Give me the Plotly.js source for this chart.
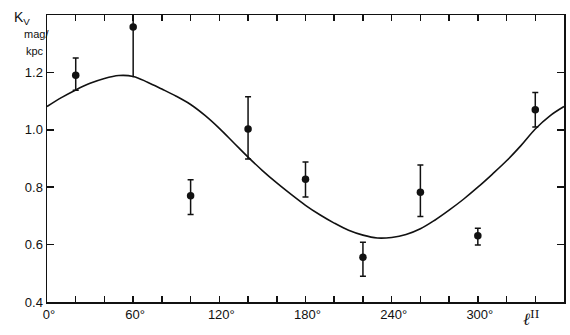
<!DOCTYPE html>
<html>
<head>
<meta charset="utf-8">
<script src="https://cdn.plot.ly/plotly-3.0.1.min.js"></script>
<style>html,body{margin:0;padding:0;background:#fff;}#chart{width:570px;height:335px;}</style>
</head>
<body>
<div id="chart"></div>
<script>
// Observed points: galactic longitude l^II (deg) and K_V (mag/kpc)
const longitudes = [20, 60, 100, 140, 180, 220, 260, 300, 340];
const kv         = [1.19, 1.358, 0.77, 1.003, 0.828, 0.556, 0.782, 0.631, 1.07];
const errPlus    = [0.06, 0.042, 0.056, 0.112, 0.06, 0.052, 0.095, 0.026, 0.06];
const errMinus   = [0.052, 0.175, 0.065, 0.105, 0.062, 0.066, 0.084, 0.032, 0.06];

// Fitted curve (every 10°)
const curveL = [0,10,20,30,40,50,60,70,80,90,100,110,120,130,140,150,160,170,180,190,200,210,220,230,240,250,260,270,280,290,300,310,320,330,340,350,360];
const curveK = [1.081,1.112,1.139,1.162,1.179,1.189,1.186,1.166,1.142,1.117,1.088,1.050,1.005,0.955,0.905,0.858,0.815,0.775,0.737,0.704,0.675,0.650,0.633,0.623,0.625,0.635,0.655,0.685,0.720,0.758,0.800,0.845,0.892,0.945,1.003,1.048,1.081];

// Axis ticks
const xTickVals = [0, 60, 120, 180, 240, 300];
const xTickText = ['0°', '60°', '120°', '180°', '240°', '300°'];
const xMinorVals = [20, 40, 80, 100, 140, 160, 200, 220, 260, 280, 320, 340];
const yTickVals = [0.4, 0.6, 0.8, 1.0, 1.2];
const yTickText = ['0.4', '0.6', '0.8', '1.0', '1.2'];

// Point at 60° drawn without caps (bar runs off the top of the frame)
const capIdx = [], noCapIdx = [];
kv.forEach((v, i) => { if (v + errPlus[i] >= 1.4) noCapIdx.push(i); else capIdx.push(i); });
const pick = (arr, idx) => idx.map(i => arr[i]);

const ink = '#111';
const traces = [
  { x: curveL, y: curveK, mode: 'lines', line: {color: ink, width: 1.6, shape: 'spline', smoothing: 1}, hoverinfo: 'skip' },
  { x: pick(longitudes, capIdx), y: pick(kv, capIdx), mode: 'markers',
    marker: {color: ink, size: 7.5},
    error_y: {type: 'data', symmetric: false, array: pick(errPlus, capIdx), arrayminus: pick(errMinus, capIdx), color: ink, thickness: 1.5, width: 3} },
  { x: pick(longitudes, noCapIdx), y: pick(kv, noCapIdx), mode: 'markers',
    marker: {color: ink, size: 7.5},
    error_y: {type: 'data', symmetric: false, array: pick(errPlus, noCapIdx), arrayminus: pick(errMinus, noCapIdx), color: ink, thickness: 1.5, width: 0} }
];

const L = 47, R = 564, T = 15, B = 302;
const px = X => (X - L) / (R - L);
const py = Y => (B - Y) / (B - T);

const layout = {
  width: 570, height: 335,
  margin: {l: L, r: 570 - R, t: T, b: 335 - B, pad: 0},
  paper_bgcolor: '#fff', plot_bgcolor: '#fff',
  showlegend: false,
  font: {family: 'Liberation Sans, Arial, sans-serif', color: ink, size: 13},
  xaxis: {
    range: [0, 360], tickmode: 'array', tickvals: xTickVals, ticktext: xTickText,
    ticks: 'inside', ticklen: 6, tickwidth: 1.5, tickcolor: ink,
    minor: {tickmode: 'array', tickvals: xMinorVals, ticks: 'inside', ticklen: 6, tickwidth: 1.5, tickcolor: ink, showgrid: false},
    showline: true, linecolor: ink, linewidth: 1.5, mirror: 'ticks',
    showgrid: false, zeroline: false, ticklabelshift: 2,
    tickfont: {size: 13, color: ink}
  },
  yaxis: {
    range: [0.4, 1.4], tickmode: 'array', tickvals: yTickVals, ticktext: yTickText,
    ticks: 'inside', ticklen: 7, tickwidth: 1.5, tickcolor: ink,
    showline: true, linecolor: ink, linewidth: 1.5, mirror: 'ticks',
    showgrid: false, zeroline: false,
    tickfont: {size: 13, color: ink}
  },
  annotations: [
    {xref: 'paper', yref: 'paper', x: px(12), y: py(18), xanchor: 'left', yanchor: 'middle', showarrow: false,
     text: 'K<sub>V</sub>', font: {size: 14, color: ink}},
    {xref: 'paper', yref: 'paper', x: px(22), y: py(34), xanchor: 'left', yanchor: 'middle', showarrow: false,
     text: 'mag/', font: {size: 11, color: ink}},
    {xref: 'paper', yref: 'paper', x: px(24), y: py(51), xanchor: 'left', yanchor: 'middle', showarrow: false,
     text: 'kpc', font: {size: 11, color: ink}},
    {xref: 'paper', yref: 'paper', x: px(531), y: py(318), xanchor: 'center', yanchor: 'middle', showarrow: false,
     text: '<i>ℓ</i><sup>II</sup>', font: {size: 17, color: ink, family: 'DejaVu Serif, serif'}}
  ]
};

Plotly.newPlot('chart', traces, layout, {displayModeBar: false, staticPlot: true});
</script>
</body>
</html>
